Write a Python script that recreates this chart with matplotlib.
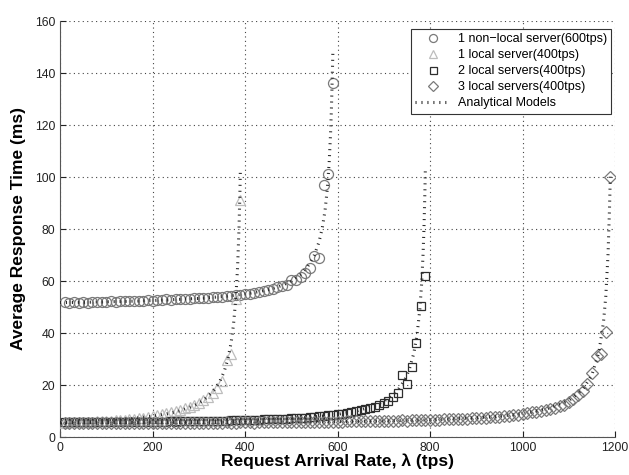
import numpy as np
import matplotlib
matplotlib.use('Agg')
import matplotlib.pyplot as plt

plt.rcParams['font.family'] = ['Liberation Sans', 'DejaVu Sans']

# measured points (every 10 tps)
rate_nonlocal = np.arange(10, 600, 10)
resp_nonlocal = [52, 51.5, 51.8, 51.6, 51.9, 51.7, 52, 51.8, 52.1, 52,
                 52.2, 52.1, 52.3, 52.2, 52.4, 52.3, 52.5, 52.4, 52.6, 52.5,
                 52.8, 52.6, 52.9, 52.8, 53, 52.9, 53.2, 53.1, 53.4, 53.3,
                 53.5, 53.6, 53.8, 53.7, 54, 54.1, 54.3, 54.6, 54.8, 55,
                 54.9, 55.4, 55.9, 56, 56.5, 57, 57.6, 58.2, 58.5, 60.5,
                 60.3, 61.5, 63, 65, 69.5, 69, 97, 101, 136]

rate_local1 = np.arange(10, 400, 10)
resp_local1 = [5.5, 5.6, 5.6, 5.7, 5.8, 5.9, 5.9, 6.0, 6.1, 6.2,
               6.3, 6.5, 6.6, 6.7, 6.9, 7.1, 7.3, 7.5, 7.8, 8.1,
               8.4, 8.7, 9.1, 9.5, 10, 10.4, 11, 11.7, 12.4, 13.2,
               14.2, 15.4, 17, 19, 21.5, 29.5, 32, 53, 91]

rate_local2 = np.arange(10, 800, 10)
resp_local2 = [5.6, 5.7, 5.6, 5.7, 5.6, 5.7, 5.7, 5.6, 5.7, 5.7,
               5.7, 5.8, 5.7, 5.8, 5.8, 5.7, 5.8, 5.8, 5.9, 5.8,
               5.9, 5.9, 5.9, 6.0, 5.9, 6.0, 6.0, 6.1, 6.0, 6.1,
               6.1, 6.2, 6.1, 6.2, 6.3, 6.3, 6.4, 6.4, 6.5, 6.5,
               6.6, 6.6, 6.7, 6.8, 6.8, 6.9, 7.0, 7.1, 7.1, 7.2,
               7.3, 7.4, 7.5, 7.6, 7.8, 7.9, 8.1, 8.3, 8.5, 8.7,
               9.0, 9.2, 9.5, 9.9, 10.3, 10.7, 11.2, 11.7, 12.4, 13.1,
               14.0, 15.5, 17, 24, 20.4, 27, 36, 50.5, 62]

rate_local3 = np.arange(10, 1200, 10)
resp_local3 = [5.3, 5.4, 5.3, 5.4, 5.3, 5.4, 5.3, 5.4, 5.4, 5.3,
               5.4, 5.3, 5.4, 5.4, 5.3, 5.4, 5.4, 5.3, 5.4, 5.4,
               5.4, 5.4, 5.5, 5.4, 5.4, 5.5, 5.4, 5.5, 5.5, 5.4,
               5.5, 5.5, 5.4, 5.5, 5.5, 5.6, 5.5, 5.5, 5.6, 5.6,
               5.6, 5.5, 5.6, 5.6, 5.7, 5.6, 5.6, 5.7, 5.7, 5.7,
               5.7, 5.8, 5.7, 5.8, 5.8, 5.8, 5.9, 5.8, 5.9, 5.9,
               5.9, 6.0, 6.0, 6.0, 6.1, 6.0, 6.1, 6.1, 6.2, 6.2,
               6.2, 6.3, 6.3, 6.4, 6.3, 6.4, 6.5, 6.5, 6.6, 6.6,
               6.7, 6.7, 6.8, 6.9, 6.9, 7.0, 7.1, 7.1, 7.2, 7.3,
               7.4, 7.5, 7.6, 7.7, 7.8, 7.9, 8.1, 8.3, 8.6, 8.9,
               9.1, 9.5, 9.6, 10, 10.3, 10.7, 11, 11.8, 12.5, 13.6,
               14.8, 16.2, 17.8, 20.5, 24.5, 31, 32, 40.5, 100]

# analytical model curves
model1_x = [0, 50, 100, 150, 200, 250, 300, 350, 400, 430, 460, 480, 500,
            520, 535, 550, 560, 567, 573, 578, 582, 585, 587, 589, 590]
model1_y = [51.7, 51.8, 52.0, 52.2, 52.5, 52.9, 53.3, 54.0, 55.0, 55.9, 57.1,
            58.3, 60.0, 62.5, 65.4, 70, 75, 80.3, 87, 95.5, 105.6, 116.7,
            127, 141, 148]
model2_x = [0, 50, 100, 150, 200, 230, 260, 290, 310, 330, 345, 355, 363,
            370, 375, 380, 384, 387, 389, 390]
model2_y = [5.5, 5.9, 6.3, 7.0, 8.0, 8.9, 10.1, 12.1, 14.1, 17.3, 21.2, 25.2,
            30.0, 36.3, 43, 53, 65.5, 80, 94, 103]
model3_x = [0, 100, 200, 300, 400, 450, 500, 550, 600, 640, 680, 710, 730,
            745, 755, 765, 772, 778, 782, 785, 787, 789, 790]
model3_y = [5.5, 5.54, 5.67, 5.91, 6.33, 6.66, 7.1, 7.74, 8.71, 9.94, 12.0,
            14.8, 17.9, 21.8, 25.9, 32.2, 39.3, 49.1, 59.2, 70.3, 80.5, 94.5,
            103.6]
model4_x = [0, 200, 400, 600, 700, 800, 900, 950, 1000, 1050, 1100, 1130,
            1150, 1165, 1175, 1180, 1185, 1188, 1190]
model4_y = [5.5, 5.52, 5.61, 5.9, 6.17, 6.61, 7.39, 8.04, 9.0, 10.65, 14.0,
            18.2, 23.9, 32.5, 44.0, 53.9, 70.5, 87.2, 101]

labels = ['1 non\u2212local server(600tps)', '1 local server(400tps)',
          '2 local servers(400tps)', '3 local servers(400tps)',
          'Analytical Models']

fig = plt.figure(figsize=(6.29, 4.75), dpi=100)
ax = fig.add_axes([60 / 629, 38 / 475, 555 / 629, 416 / 475])

mk = dict(linestyle='none', markerfacecolor='none', markersize=7.2,
          markeredgewidth=0.9, zorder=3)
h1, = ax.plot(rate_nonlocal, resp_nonlocal, marker='o', markeredgecolor='#7a7a7a', **mk)
h2, = ax.plot(rate_local1, resp_local1, marker='^', markeredgecolor='#bdbdbd', **mk)
h3, = ax.plot(rate_local2, resp_local2, marker='s', markeredgecolor='#2e2e2e',
              **dict(mk, markersize=6.3))
h4, = ax.plot(rate_local3, resp_local3, marker='D', markeredgecolor='#7a7a7a',
              **dict(mk, markersize=6.0))

ln = dict(color='#2a2a2a', linewidth=2.2, linestyle=(0, (0.35, 1.6)),
          dash_capstyle='butt', zorder=4)
h5, = ax.plot(model1_x, model1_y, **ln)
ax.plot(model2_x, model2_y, **ln)
ax.plot(model3_x, model3_y, **ln)
ax.plot(model4_x, model4_y, **ln)

ax.set_xlim(0, 1200)
ax.set_ylim(0, 160)
ax.set_xticks(range(0, 1201, 200))
ax.set_yticks(range(0, 161, 20))
ax.tick_params(direction='in', length=4, labelsize=8.8, colors='#222222')
ax.grid(True, linestyle=(0, (1, 3)), color='#444444', linewidth=0.8)
for s in ['top', 'right']:
    ax.spines[s].set_visible(False)
for s in ['left', 'bottom']:
    ax.spines[s].set_color('#555555')

ax.set_xlabel('Request Arrival Rate, \u03bb (tps)', fontsize=12.5,
              fontweight='bold', labelpad=0)
ax.set_ylabel('Average Response Time (ms)', fontsize=12.5,
              fontweight='bold', labelpad=6)

leg = ax.legend([h1, h2, h3, h4, h5], labels, loc='upper right',
                bbox_to_anchor=(0.993, 0.981), fontsize=9, fancybox=False,
                framealpha=1, edgecolor='#333333', labelspacing=0.32,
                handlelength=2.8, handletextpad=0.6, borderpad=0.35,
                borderaxespad=0, markerscale=0.8)
leg.get_frame().set_linewidth(0.8)

fig.savefig('out.png', dpi=100)
